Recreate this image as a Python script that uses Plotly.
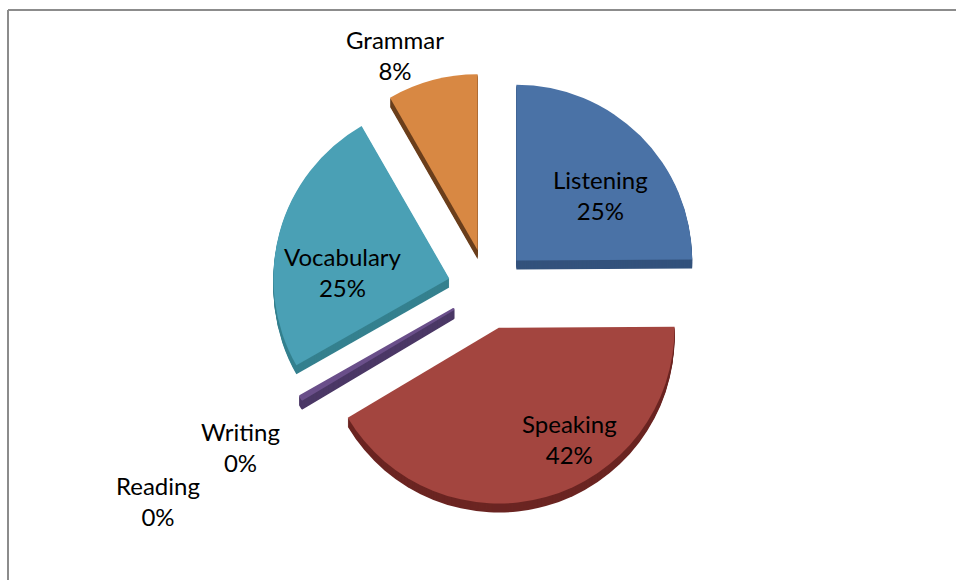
import plotly.graph_objects as go

# Survey: which skill students most want to improve
skills = ["Listening", "Speaking", "Reading", "Writing", "Vocabulary", "Grammar"]
responses = [3, 5, 0, 0.04, 3, 1]

face_colors = ["#4A72A6", "#A3453F", "#9BBB59", "#6A4F8A", "#4AA0B5", "#D88843"]
side_colors = ["#33527C", "#6B2522", "#5F7632", "#4B3866", "#35808F", "#6B3F1C"]

W, H = 956, 580
PULL = 0.2286
DEPTH = 9  # thickness of the extruded rim, px

# very thin (but non-empty) slices get an outline in their own colour
total = sum(responses)
edge_widths = [2.5 if 0 < v / total < 0.01 else 0 for v in responses]

# label centres in pixels (x, y of the first line)
label_xy = {
    "Listening": (600, 180),
    "Speaking": (569, 424),
    "Reading": (158, 486),
    "Writing": (240, 432),
    "Vocabulary": (343, 257),
    "Grammar": (395, 40),
}


def pie_domain(shift):
    """Pie domain in paper coords, moved down by `shift` pixels."""
    return dict(
        x=[272 / W, 704 / W],
        y=[(75 - shift) / H, (507 - shift) / H],
    )


fig = go.Figure()

# darker stacked copies give the slices a 3-D rim
for s in range(DEPTH, 0, -1):
    fig.add_trace(go.Pie(
        labels=skills, values=responses, sort=False, direction="clockwise",
        rotation=0, pull=PULL, domain=pie_domain(s),
        marker=dict(colors=side_colors,
                    line=dict(width=edge_widths, color=side_colors)),
        textinfo="none", hoverinfo="skip", showlegend=False,
    ))

# top face
fig.add_trace(go.Pie(
    labels=skills, values=responses, sort=False, direction="clockwise",
    rotation=0, pull=PULL, domain=pie_domain(0),
    marker=dict(colors=face_colors,
                line=dict(width=edge_widths, color=face_colors)),
    textinfo="none", hoverinfo="label+percent", showlegend=False,
))

for name, v in zip(skills, responses):
    x, y = label_xy[name]
    fig.add_annotation(
        x=x / W, y=1 - (y + 15) / H, xref="paper", yref="paper",
        text=f"{name}<br>{v / total:.0%}", showarrow=False,
        xanchor="center", yanchor="middle", align="center",
        font=dict(family="Lato", size=24, color="#000000"),
    )

# chart frame (top and left edges visible)
frame = dict(color="#8C8C8C", width=2)
fig.add_shape(type="line", xref="paper", yref="paper",
              x0=8 / W, x1=1, y0=1 - 10 / H, y1=1 - 10 / H, line=frame)
fig.add_shape(type="line", xref="paper", yref="paper",
              x0=8 / W, x1=8 / W, y0=0, y1=1 - 10 / H, line=frame)

fig.update_layout(
    width=W, height=H,
    margin=dict(l=0, r=0, t=0, b=0),
    paper_bgcolor="white", plot_bgcolor="white",
    showlegend=False,
)

fig.write_html("out.html")
